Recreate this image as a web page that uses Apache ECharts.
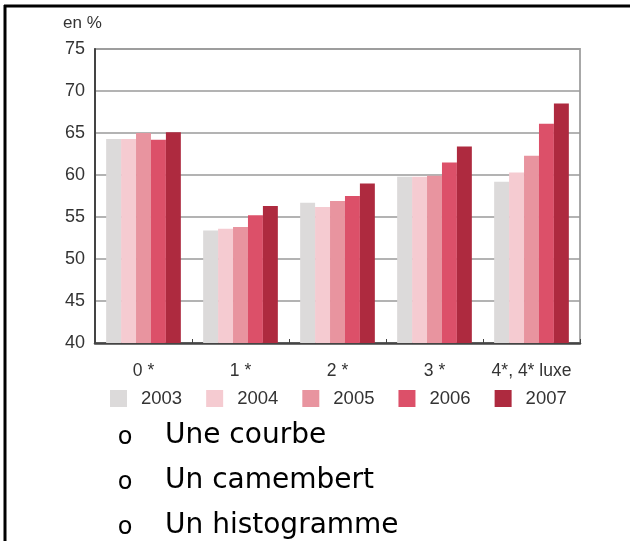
<!DOCTYPE html>
<html>
<head>
<meta charset="utf-8">
<title>Taux d'occupation par catégorie</title>
<script src="https://cdn.jsdelivr.net/npm/echarts@6/dist/echarts.min.js"></script>
<style>
    html, body { margin: 0; padding: 0; background: #fff; }
    #chart { width: 630px; height: 541px; }
</style>
</head>
<body>
<div id="chart"></div>
<script>
// catégories d'hôtels et années
const categories = ['0 *', '1 *', '2 *', '3 *', '4*, 4* luxe'];
const years = ['2003', '2004', '2005', '2006', '2007'];

// valeurs (en %)
const v2003 = [64.3, 53.4, 56.7, 59.8, 59.2];
const v2004 = [64.3, 53.6, 56.2, 59.8, 60.3];
const v2005 = [65.0, 53.8, 56.9, 59.9, 62.3];
const v2006 = [64.2, 55.2, 57.5, 61.5, 66.1];
const v2007 = [65.1, 56.3, 59.0, 63.4, 68.5];
const seriesValues = [v2003, v2004, v2005, v2006, v2007];

const colors = ['#dcdada', '#f5cbd1', '#e8949f', '#dc5069', '#ae2a3f'];

// texte sous le graphique
const choices = ['Une courbe', 'Un camembert', 'Un histogramme'];

const font = '"Liberation Sans", Arial, sans-serif';
const chart = echarts.init(document.getElementById('chart'));

chart.setOption({
    animation: false,
    color: colors,
    grid: {
        left: 95,
        right: 50,
        top: 49,
        bottom: 198,
        show: true,
        borderColor: '#a8a8a8',
        borderWidth: 2
    },
    legend: {
        data: years,
        left: 110,
        top: 389,
        padding: 0,
        itemWidth: 17,
        itemHeight: 17,
        itemGap: 24,
        icon: 'rect',
        textStyle: {
            fontFamily: font,
            fontSize: 18.5,
            color: '#333',
            padding: [0, 0, 0, 9]
        }
    },
    xAxis: {
        type: 'category',
        data: categories,
        axisLine: { lineStyle: { color: '#444', width: 2.5 } },
        axisTick: { show: true, inside: true, length: 4, interval: 0, lineStyle: { color: '#444' } },
        axisLabel: {
            interval: 0,
            margin: 19,
            fontFamily: font,
            fontSize: 17.5,
            color: '#333'
        }
    },
    yAxis: {
        type: 'value',
        min: 40,
        max: 75,
        interval: 5,
        axisLine: { show: true, lineStyle: { color: '#444', width: 2 } },
        axisTick: { show: false },
        axisLabel: {
            margin: 10,
            fontFamily: font,
            fontSize: 18,
            color: '#333'
        },
        splitLine: { lineStyle: { color: '#9a9a9a', width: 1.5 } }
    },
    series: years.map((y, i) => ({
        name: y,
        type: 'bar',
        data: seriesValues[i],
        barGap: '0%',
        barCategoryGap: '23%'
    })),
    graphic: [
        // cadre de la diapositive
        { type: 'line', shape: { x1: 4, y1: 6, x2: 630, y2: 6 }, style: { stroke: '#000', lineWidth: 3 } },
        { type: 'line', shape: { x1: 5, y1: 5, x2: 5, y2: 541 }, style: { stroke: '#000', lineWidth: 3 } },
        {
            type: 'text', left: 63, top: 15,
            style: { text: 'en %', fontFamily: font, fontSize: 17, fill: '#333' }
        },
        ...choices.flatMap((t, i) => [
            {
                type: 'text', x: 125, y: 438 + i * 45,
                style: {
                    text: 'o', fontFamily: '"DejaVu Sans", sans-serif', fontSize: 24,
                    fill: '#000', align: 'center', verticalAlign: 'middle'
                }
            },
            {
                type: 'text', x: 165, y: 436 + i * 45,
                style: {
                    text: t, fontFamily: '"Comic Sans MS", "DejaVu Sans", sans-serif',
                    fontSize: 28, fill: '#000', align: 'left', verticalAlign: 'middle'
                }
            }
        ])
    ]
});
</script>
</body>
</html>
